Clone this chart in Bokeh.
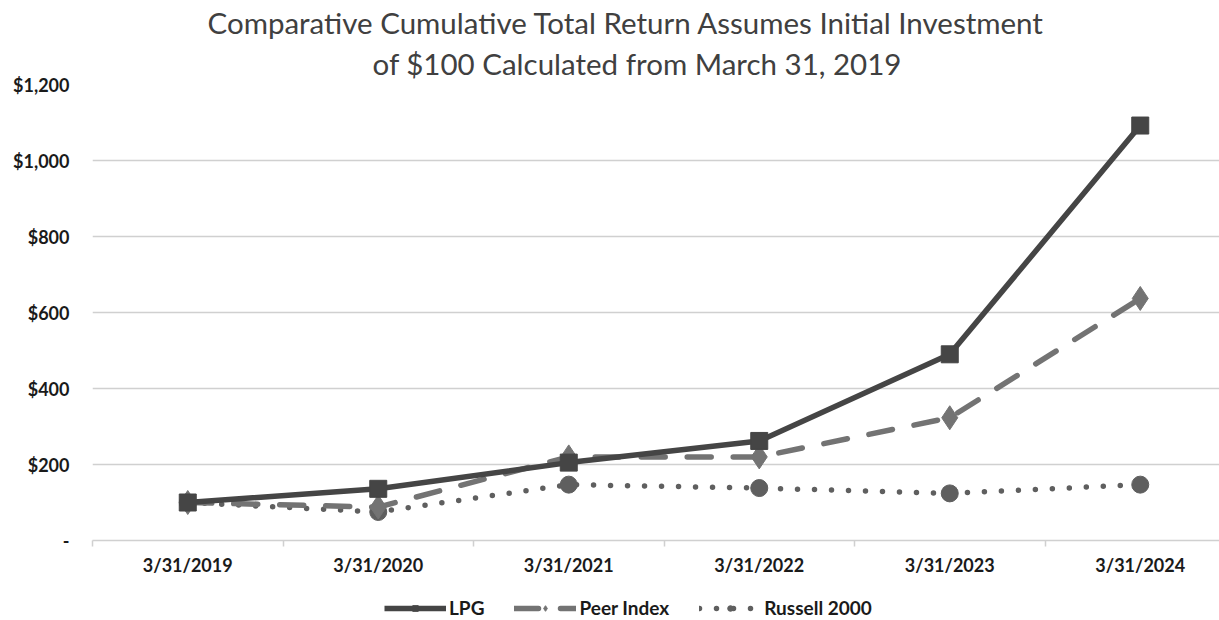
from bokeh.plotting import figure
from bokeh.layouts import column
from bokeh.models import FixedTicker, Title, Legend, LegendItem, ColumnDataSource, Range1d
from bokeh.embed import file_html
from bokeh.resources import INLINE

dates = ["3/31/2019", "3/31/2020", "3/31/2021", "3/31/2022", "3/31/2023", "3/31/2024"]
lpg = [100, 136, 205, 262, 490, 1092]
peer = [100, 88, 220, 220, 323, 637]
russell = [100, 75, 147, 138, 124, 147]
y_ticks = [0, 200, 400, 600, 800, 1000, 1200]
y_labels = ["-", "$200", "$400", "$600", "$800", "$1,000", "$1,200"]
series_names = ["LPG", "Peer Index", "Russell 2000"]
title_lines = ["Comparative Cumulative Total Return Assumes Initial Investment",
               "of $100 Calculated from March 31, 2019"]

xs = list(range(len(dates)))
src = ColumnDataSource(dict(x=xs, lpg=lpg, peer=peer, russell=russell))

FONT = "Lato"
p = figure(width=1219, height=590, output_backend="svg", toolbar_location=None,
           x_range=Range1d(-0.5, 5.416), y_range=Range1d(0, 1200),
           min_border_left=92, min_border_right=0, min_border_top=84, min_border_bottom=50)
p.title.visible = False
p.outline_line_color = None
p.background_fill_color = "white"
p.border_fill_color = "white"

# axes
p.xaxis.ticker = FixedTicker(ticks=xs, minor_ticks=[i - 0.5 for i in range(len(dates) + 1)])
p.xaxis.major_label_overrides = {i: d for i, d in enumerate(dates)}
p.xaxis.major_tick_line_color = None
p.xaxis.major_tick_out = 0
p.xaxis.major_tick_in = 0
p.xaxis.minor_tick_out = 6
p.xaxis.minor_tick_in = 0
p.xaxis.minor_tick_line_color = "#d0d0d0"
p.xaxis.minor_tick_line_width = 1.5
p.xaxis.axis_line_color = "#d0d0d0"
p.xaxis.axis_line_width = 1.5
p.xaxis.major_label_standoff = 7
p.xaxis.major_label_text_font = FONT
p.xaxis.major_label_text_font_style = "bold"
p.xaxis.major_label_text_font_size = "18px"
p.xaxis.major_label_text_color = "#1a1a1a"
p.xgrid.visible = False

p.yaxis.ticker = FixedTicker(ticks=y_ticks, minor_ticks=[])
p.yaxis.major_label_overrides = {t: l for t, l in zip(y_ticks, y_labels)}
p.yaxis.axis_line_color = None
p.yaxis.major_tick_line_color = None
p.yaxis.minor_tick_line_color = None
p.yaxis.major_tick_out = 0
p.yaxis.major_tick_in = 0
p.yaxis.major_label_standoff = 23
p.yaxis.major_label_text_font = FONT
p.yaxis.major_label_text_font_style = "bold"
p.yaxis.major_label_text_font_size = "18px"
p.yaxis.major_label_text_color = "#1a1a1a"
p.ygrid.ticker = FixedTicker(ticks=y_ticks[1:])
p.ygrid.grid_line_color = "#d0d0d0"
p.ygrid.grid_line_width = 1.5

c_lpg = "#454545"
c_peer = "#737373"
c_rus = "#5f5f5f"


def draw(fig, visible=True):
    rl = fig.line("x", "russell", source=src, line_color=c_rus, line_width=5.5,
                  line_dash="0 17", line_cap="round", visible=visible)
    rm = fig.scatter("x", "russell", source=src, marker="circle", size=17,
                     fill_color=c_rus, line_color=c_rus, visible=visible)
    pl = fig.line("x", "peer", source=src, line_color=c_peer, line_width=5.5,
                  line_dash="24 22", line_cap="round", visible=visible)
    pm = fig.scatter("x", "peer", source=src, marker="diamond", size=24,
                     fill_color=c_peer, line_color=c_peer, visible=visible)
    ll = fig.line("x", "lpg", source=src, line_color=c_lpg, line_width=5.5, visible=visible)
    lm = fig.scatter("x", "lpg", source=src, marker="square", size=17,
                     fill_color=c_lpg, line_color=c_lpg, visible=visible)
    return [[ll, lm], [pl, pm], [rl, rm]]


draw(p)

for line, off, so in zip(reversed(title_lines), [280, 115], [8, 0]):
    t = Title(text=line, align="left", offset=off, text_font=FONT,
              text_font_size="29.5px", text_font_style="normal", text_color="#404040",
              standoff=so)
    p.add_layout(t, "above")

# legend strip below the chart
lg = figure(width=1219, height=30, output_backend="svg", toolbar_location=None,
            x_range=Range1d(-0.5, 5.416), y_range=Range1d(0, 1200),
            x_axis_type=None, y_axis_type=None,
            min_border_left=0, min_border_right=0, min_border_top=0, min_border_bottom=0)
lg.title.visible = False
lg.outline_line_color = None
lg.grid.visible = False
lg_r = draw(lg, visible=False)
legend = Legend(items=[LegendItem(label=n, renderers=r) for n, r in zip(series_names, lg_r)],
                orientation="horizontal", location=(292, 1), glyph_width=62, glyph_height=14,
                label_text_font=FONT, label_text_font_style="bold", label_text_font_size="19px",
                label_text_color="#1a1a1a", border_line_color=None, background_fill_alpha=0,
                inactive_fill_alpha=0, padding=0, spacing=30, label_standoff=3, margin=0)
lg.add_layout(legend, "center")

layout = column(p, lg, spacing=0)
open("out.html", "w").write(file_html(layout, INLINE))
